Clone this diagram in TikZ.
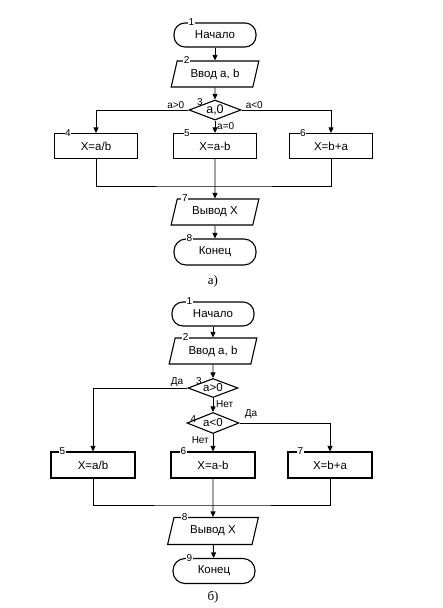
\documentclass[tikz,border=0pt]{standalone}
\usepackage{fontspec}
\setmainfont{Liberation Sans}
\newfontfamily\capfont{Liberation Serif}
\usetikzlibrary{arrows.meta,shapes.geometric,positioning}

\begin{document}
\begin{tikzpicture}[x=1pt,y=-1pt,
    every node/.style={font=\fontsize{11.5}{13}\selectfont},
    term/.style={draw, line width=1.1pt, rounded corners=11pt, minimum width=82pt, minimum height=24pt, inner sep=0pt},
    io/.style={draw, line width=1.1pt, trapezium, trapezium left angle=70, trapezium right angle=110, trapezium stretches=true, minimum width=88pt, minimum height=26pt, inner sep=0pt},
    proc/.style={draw, line width=1.1pt, minimum width=83pt, minimum height=25pt, inner sep=0pt},
    cond/.style={draw, line width=1.1pt, diamond, aspect=2.6, minimum width=52pt, minimum height=20pt, inner sep=0pt},
    num/.style={fill=white, inner sep=0.6pt, font=\fontsize{10}{10}\selectfont},
    dnum/.style={inner sep=0pt, font=\fontsize{10}{10}\selectfont},
    lbl/.style={inner sep=1pt, font=\fontsize{10}{10}\selectfont},
    capt/.style={font=\capfont\fontsize{13}{14}\selectfont},
    line/.style={line width=0.9pt},
    arr/.style={line width=0.9pt, -{Triangle[length=5.5pt,width=5pt]}}]
    \useasboundingbox (0,0) rectangle (443,608);
    %% a)
    \node[term] (t1) at (215,35) {Начало};
    \node[io] (i2) at (215,74) {Ввод a, b};
    \node[cond, font=\fontsize{12.5}{13}\selectfont] (d3) at (215,110) {a,0};
    \node[proc] (b4) at (96,146) {X=a/b};
    \node[proc] (b5) at (215,146) {X=a-b};
    \node[proc] (b6) at (331,146) {X=b+a};
    \coordinate (m1) at (215,186);
    \node[io] (o7) at (215,212) {Вывод X};
    \node[term, minimum height=26pt, rounded corners=12pt] (t8) at (215,252) {Конец};
    \node[capt] (ca) at (213,281) {а)};
    %% numbers
    \node[num] at ([xshift=18pt]t1.north west) {1};
    \node[num] at ([xshift=10pt]i2.top left corner) {2};
    \node[dnum] at ([xshift=-15pt,yshift=-3pt]d3.north) {3};
    \node[num] at ([xshift=14pt]b4.north west) {4};
    \node[num] at ([xshift=14pt]b5.north west) {5};
    \node[num] at ([xshift=14pt]b6.north west) {6};
    \node[num] at ([xshift=8pt]o7.top left corner) {7};
    \node[num] at ([xshift=16pt]t8.north west) {8};
    %% labels
    \node[lbl, anchor=south east] (la1) at ([xshift=-3pt]d3.west) {a>0};
    \node[lbl, anchor=south west] (la2) at ([xshift=3pt]d3.east) {a<0};
    \node[lbl, anchor=north west] (la3) at ([xshift=1pt,yshift=-1pt]d3.south) {a=0};
    %% connectors
    \draw[arr] (t1) -- (i2);
    \draw[arr] (i2) -- (d3);
    \draw[arr] (d3.west) -| (b4.north);
    \draw[arr] (d3.south) -- (b5.north);
    \draw[arr] (d3.east) -| (b6.north);
    \draw[line] (b4.south) |- (m1) -| (b6.south);
    \draw[arr] (b5.south) -- (o7.north);
    \draw[arr] (o7) -- (t8);

    %% б)
    \node[term] (t1b) at (213,314) {Начало};
    \node[io] (i2b) at (213,351) {Ввод a, b};
    \node[cond, minimum width=50pt, minimum height=19pt] (d3b) at (213,388) {a>0};
    \node[cond, minimum height=21pt] (d4b) at (213,423) {a<0};
    \node[proc, minimum width=84pt, minimum height=26pt] (b5b) at (93,465) {X=a/b};
    \node[proc, minimum width=84pt, minimum height=26pt] (b6b) at (213,465) {X=a-b};
    \node[proc, minimum width=84pt, minimum height=26pt] (b7b) at (330,465) {X=b+a};
    \coordinate (m2) at (213,505);
    \node[io, minimum height=27pt, minimum width=91pt] (o8b) at (213,531) {Вывод X};
    \node[term, minimum height=25pt, rounded corners=12pt] (t9b) at (214,571) {Конец};
    \node[capt] (cb) at (213,597) {б)};
    %% numbers
    \node[num] at ([xshift=18pt]t1b.north west) {1};
    \node[num] at ([xshift=11pt]i2b.top left corner) {2};
    \node[dnum] at ([xshift=-14pt,yshift=-3pt]d3b.north) {3};
    \node[dnum] at ([xshift=7pt,yshift=4pt]d4b.west) {4};
    \node[num] at ([xshift=12pt]b5b.north west) {5};
    \node[num] at ([xshift=13pt]b6b.north west) {6};
    \node[num] at ([xshift=13pt]b7b.north west) {7};
    \node[num] at ([xshift=11pt]o8b.top left corner) {8};
    \node[num] at ([xshift=17pt]t9b.north west) {9};
    %% labels
    \node[lbl, anchor=south east] (lb1) at ([xshift=-3pt]d3b.west) {Да};
    \node[lbl, anchor=north west] (lb2) at ([xshift=2pt,yshift=-1pt]d3b.south) {Нет};
    \node[lbl, anchor=south west] (lb3) at ([xshift=4pt,yshift=3pt]d4b.east) {Да};
    \node[lbl, anchor=north east] (lb4) at ([xshift=-3pt,yshift=-1pt]d4b.south) {Нет};
    %% connectors
    \draw[arr] (t1b) -- (i2b);
    \draw[arr] (i2b) -- (d3b);
    \draw[arr] (d3b.west) -| (b5b.north);
    \draw[arr] (d3b.south) -- (d4b.north);
    \draw[arr] (d4b.south) -- (b6b.north);
    \draw[arr] (d4b.east) -| (b7b.north);
    \draw[line] (b5b.south) |- (m2) -| (b7b.south);
    \draw[arr] (b6b.south) -- (o8b.north);
    \draw[arr] (o8b) -- (t9b);
\end{tikzpicture}
\end{document}
